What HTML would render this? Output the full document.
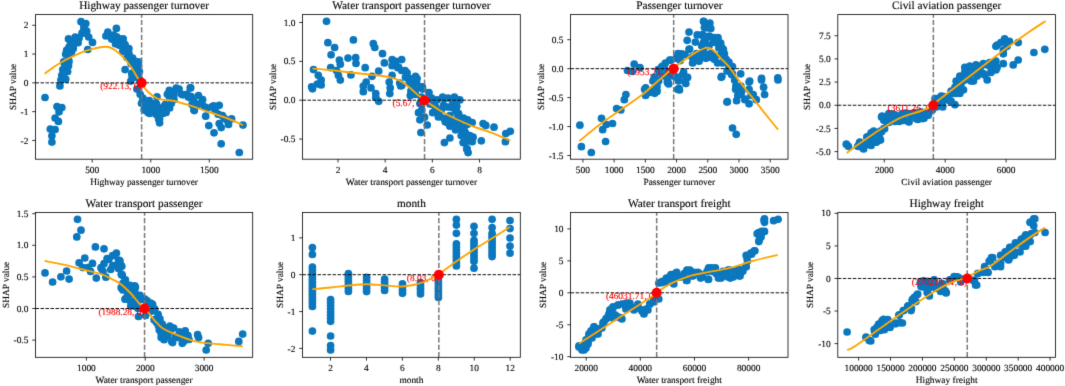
<!DOCTYPE html>
<html><head><meta charset="utf-8"><style>html,body{margin:0;padding:0;background:#fff;width:1065px;height:386px;overflow:hidden;position:relative} svg text{stroke:#000;stroke-width:0.12px;text-rendering:geometricPrecision} svg text.a{stroke:#f00}</style></head>
<body><svg width="1065" height="386" viewBox="0 0 1065 386" style="display:block;position:absolute;left:0;top:0"><defs><filter id="bl" x="0" y="0" width="1065" height="386" filterUnits="userSpaceOnUse" color-interpolation-filters="sRGB"><feConvolveMatrix order="3" kernelMatrix="0.0100 0.0800 0.0100 0.0800 0.6400 0.0800 0.0100 0.0800 0.0100" edgeMode="duplicate" preserveAlpha="true"/></filter></defs><g filter="url(#bl)"><rect width="1065" height="386" fill="#fff"/><g font-family='"Liberation Serif", serif' font-size="9.4" fill="#000""><clipPath id="c0"><rect x="35.5" y="14.6" width="217.2" height="144.6"/></clipPath><g clip-path="url(#c0)"><g fill="#0a77be"><circle cx="81" cy="21.7" r="3.85"/><circle cx="85.8" cy="23.6" r="3.85"/><circle cx="83.9" cy="28.4" r="3.85"/><circle cx="86.7" cy="31.2" r="3.85"/><circle cx="82.9" cy="33.2" r="3.85"/><circle cx="88.7" cy="37" r="3.85"/><circle cx="92.5" cy="42.4" r="3.85"/><circle cx="79.1" cy="38" r="3.85"/><circle cx="74.3" cy="40.8" r="3.85"/><circle cx="68.5" cy="38.9" r="3.85"/><circle cx="70.5" cy="44.7" r="3.85"/><circle cx="66.6" cy="50.4" r="3.85"/><circle cx="73.3" cy="48.5" r="3.85"/><circle cx="87.7" cy="49.5" r="3.85"/><circle cx="69.5" cy="54.2" r="3.85"/><circle cx="68.5" cy="60" r="3.85"/><circle cx="65.7" cy="64.8" r="3.85"/><circle cx="62.8" cy="69.6" r="3.85"/><circle cx="61.8" cy="75.3" r="3.85"/><circle cx="65.7" cy="79.2" r="3.85"/><circle cx="67.6" cy="71.5" r="3.85"/><circle cx="59.9" cy="85.9" r="3.85"/><circle cx="116.4" cy="28.4" r="3.85"/><circle cx="107.8" cy="32.2" r="3.85"/><circle cx="105.9" cy="36" r="3.85"/><circle cx="113.6" cy="35.1" r="3.85"/><circle cx="119.3" cy="38.9" r="3.85"/><circle cx="123.2" cy="38.9" r="3.85"/><circle cx="115.5" cy="43.7" r="3.85"/><circle cx="121.2" cy="45.6" r="3.85"/><circle cx="127" cy="48.5" r="3.85"/><circle cx="128.9" cy="53.3" r="3.85"/><circle cx="132.7" cy="58.1" r="3.85"/><circle cx="136.6" cy="61.9" r="3.85"/><circle cx="138.5" cy="65.7" r="3.85"/><circle cx="125.1" cy="69.6" r="3.85"/><circle cx="131.8" cy="73.4" r="3.85"/><circle cx="134.7" cy="77.2" r="3.85"/><circle cx="130.8" cy="81.1" r="3.85"/><circle cx="139.4" cy="71.5" r="3.85"/><circle cx="45" cy="97.5" r="3.85"/><circle cx="57" cy="106.5" r="3.85"/><circle cx="61.8" cy="107.6" r="3.85"/><circle cx="59" cy="111.8" r="3.85"/><circle cx="55.1" cy="118" r="3.85"/><circle cx="58.4" cy="121.4" r="3.85"/><circle cx="50.3" cy="129.1" r="3.85"/><circle cx="55.1" cy="129.5" r="3.85"/><circle cx="51.9" cy="135.8" r="3.85"/><circle cx="51.9" cy="142.1" r="3.85"/><circle cx="136.9" cy="89.1" r="3.85"/><circle cx="140.2" cy="94.3" r="3.85"/><circle cx="142.8" cy="98.1" r="3.85"/><circle cx="141.5" cy="103.3" r="3.85"/><circle cx="144.1" cy="109.8" r="3.85"/><circle cx="148" cy="112.4" r="3.85"/><circle cx="146.7" cy="105.9" r="3.85"/><circle cx="149.3" cy="100.7" r="3.85"/><circle cx="151.8" cy="103.3" r="3.85"/><circle cx="157" cy="96.8" r="3.85"/><circle cx="155.7" cy="105.9" r="3.85"/><circle cx="154.4" cy="111.1" r="3.85"/><circle cx="158.3" cy="113.7" r="3.85"/><circle cx="160.9" cy="108.5" r="3.85"/><circle cx="164.8" cy="105.9" r="3.85"/><circle cx="166.1" cy="112.4" r="3.85"/><circle cx="159.6" cy="118.9" r="3.85"/><circle cx="159.6" cy="122.8" r="3.85"/><circle cx="171.3" cy="103.3" r="3.85"/><circle cx="173.9" cy="99.4" r="3.85"/><circle cx="169.3" cy="90.4" r="3.85"/><circle cx="167.4" cy="94.3" r="3.85"/><circle cx="173.9" cy="91.7" r="3.85"/><circle cx="179.1" cy="89.1" r="3.85"/><circle cx="181.7" cy="94.3" r="3.85"/><circle cx="186.8" cy="94.3" r="3.85"/><circle cx="190.7" cy="87.8" r="3.85"/><circle cx="190.7" cy="98.1" r="3.85"/><circle cx="192" cy="104.6" r="3.85"/><circle cx="194" cy="109.8" r="3.85"/><circle cx="190.2" cy="87.9" r="3.85"/><circle cx="187.1" cy="94.5" r="3.85"/><circle cx="191.2" cy="96.6" r="3.85"/><circle cx="198.5" cy="95.5" r="3.85"/><circle cx="202.6" cy="99.7" r="3.85"/><circle cx="194.3" cy="102.8" r="3.85"/><circle cx="197.4" cy="104.8" r="3.85"/><circle cx="204.7" cy="106.9" r="3.85"/><circle cx="194.3" cy="110.6" r="3.85"/><circle cx="211.9" cy="106.9" r="3.85"/><circle cx="219.2" cy="105.3" r="3.85"/><circle cx="215" cy="110" r="3.85"/><circle cx="218.1" cy="114.2" r="3.85"/><circle cx="205.7" cy="116.2" r="3.85"/><circle cx="224.3" cy="118.3" r="3.85"/><circle cx="231.6" cy="118.9" r="3.85"/><circle cx="228.5" cy="124.5" r="3.85"/><circle cx="219.2" cy="123.5" r="3.85"/><circle cx="221.2" cy="127.6" r="3.85"/><circle cx="208.8" cy="125.6" r="3.85"/><circle cx="243" cy="125.1" r="3.85"/><circle cx="214" cy="132.8" r="3.85"/><circle cx="221.2" cy="143.8" r="3.85"/><circle cx="239.3" cy="152.5" r="3.85"/><circle cx="83.9" cy="25.5" r="3.85"/><circle cx="82" cy="33.2" r="3.85"/><circle cx="75.2" cy="37" r="3.85"/><circle cx="71.4" cy="40.8" r="3.85"/><circle cx="78.1" cy="42.7" r="3.85"/><circle cx="73.3" cy="45.6" r="3.85"/><circle cx="69.5" cy="48.5" r="3.85"/><circle cx="65.7" cy="54.2" r="3.85"/><circle cx="71.4" cy="52.3" r="3.85"/><circle cx="63.7" cy="61.9" r="3.85"/><circle cx="68.5" cy="65.7" r="3.85"/><circle cx="63.7" cy="73.4" r="3.85"/><circle cx="60.9" cy="80.1" r="3.85"/><circle cx="111.7" cy="38.9" r="3.85"/><circle cx="119.3" cy="42.7" r="3.85"/><circle cx="125.1" cy="44.7" r="3.85"/><circle cx="123.2" cy="50.4" r="3.85"/><circle cx="128.9" cy="48.5" r="3.85"/><circle cx="130.8" cy="58.1" r="3.85"/><circle cx="134.7" cy="65.7" r="3.85"/><circle cx="138.5" cy="61.9" r="3.85"/><circle cx="132.7" cy="75.3" r="3.85"/><circle cx="139.4" cy="79.2" r="3.85"/><circle cx="112.5" cy="38.9" r="3.85"/><circle cx="118.7" cy="45.1" r="3.85"/><circle cx="122.9" cy="51.3" r="3.85"/><circle cx="127" cy="57.5" r="3.85"/><circle cx="131.2" cy="63.7" r="3.85"/><circle cx="135.3" cy="67.9" r="3.85"/><circle cx="138.4" cy="74.1" r="3.85"/><circle cx="132.2" cy="76.2" r="3.85"/><circle cx="116.7" cy="36.8" r="3.85"/><circle cx="69" cy="47.1" r="3.85"/><circle cx="73.1" cy="40.9" r="3.85"/><circle cx="64.9" cy="65.8" r="3.85"/><circle cx="69" cy="61.6" r="3.85"/><circle cx="143.2" cy="99.2" r="3.85"/><circle cx="147.6" cy="103.6" r="3.85"/><circle cx="145.4" cy="110.2" r="3.85"/><circle cx="152" cy="108" r="3.85"/><circle cx="156.4" cy="103.6" r="3.85"/><circle cx="160.8" cy="108" r="3.85"/><circle cx="165.2" cy="104.7" r="3.85"/><circle cx="169.6" cy="108" r="3.85"/><circle cx="163" cy="113.5" r="3.85"/><circle cx="156.4" cy="114.6" r="3.85"/><circle cx="149.8" cy="113.5" r="3.85"/><circle cx="158.6" cy="119" r="3.85"/><circle cx="169.6" cy="97" r="3.85"/><circle cx="174" cy="94.8" r="3.85"/><circle cx="182.8" cy="94.8" r="3.85"/><circle cx="188.3" cy="97" r="3.85"/><circle cx="193.8" cy="101.4" r="3.85"/><circle cx="200.4" cy="103.6" r="3.85"/><circle cx="207" cy="108" r="3.85"/><circle cx="213.6" cy="105.8" r="3.85"/><circle cx="222.4" cy="115.7" r="3.85"/><circle cx="226.8" cy="120.1" r="3.85"/><circle cx="176.2" cy="88.2" r="3.85"/></g><text x="141.63" y="89.05" text-anchor="end" font-size="9.4" fill="#ff0000" class="a" font-family='"Liberation Serif", serif'>(922.13, 0)</text><line x1="35.5" y1="82.85" x2="252.7" y2="82.85" stroke="#000" stroke-width="0.94" stroke-dasharray="3.5 1.5"/><line x1="141.63" y1="159.2" x2="141.63" y2="14.6" stroke="#777" stroke-width="1.5" stroke-dasharray="5.2 2.25"/><path fill="none" stroke="#ffa500" stroke-width="1.88" stroke-linejoin="round" stroke-linecap="butt" d="M44.6 73.8C46.2 72.62 51.02 68.83 54.2 66.7C57.38 64.57 60.52 62.75 63.7 61C66.88 59.25 70.1 57.72 73.3 56.2C76.5 54.68 79.7 53.12 82.9 51.9C86.1 50.68 89.3 49.72 92.5 48.9C95.7 48.08 99.38 47.32 102.1 47C104.82 46.68 106.57 46.43 108.8 47C111.03 47.57 113.1 48.72 115.5 50.4C117.9 52.08 120.65 54.38 123.2 57.1C125.75 59.82 128.25 63.02 130.8 66.7C133.35 70.38 136.72 76.4 138.5 79.2C140.28 82 139.98 81.45 141.5 83.5C143.02 85.55 145.12 89.07 147.6 91.5C150.08 93.93 153.83 96.75 156.4 98.1C158.97 99.45 160.07 99.12 163 99.6C165.93 100.08 169.97 100.15 174 101C178.03 101.85 181.7 102.98 187.2 104.7C192.7 106.42 200.03 108.92 207 111.3C213.97 113.68 223 116.7 229 119C235 121.3 240.67 124.08 243 125.1"/><circle cx="141.63" cy="82.85" r="5" fill="#ff0000"/></g><rect x="35.5" y="14.6" width="217.2" height="144.6" fill="none" stroke="#000" stroke-width="0.8"/><text x="92.2" y="172.7" text-anchor="middle">500</text><text x="150.75" y="172.7" text-anchor="middle">1000</text><text x="209.3" y="172.7" text-anchor="middle">1500</text><text x="28.4" y="28.35" text-anchor="end">2</text><text x="28.4" y="57.15" text-anchor="end">1</text><text x="28.4" y="85.95" text-anchor="end">0</text><text x="28.4" y="114.75" text-anchor="end">-1</text><text x="28.4" y="143.55" text-anchor="end">-2</text><path d="M92.2 159.2v3.3 M150.75 159.2v3.3 M209.3 159.2v3.3 M35.5 25.25h-3.3 M35.5 54.05h-3.3 M35.5 82.85h-3.3 M35.5 111.65h-3.3 M35.5 140.45h-3.3" stroke="#000" stroke-width="0.8" fill="none"/><text x="144.1" y="185.3" text-anchor="middle">Highway passenger turnover</text><text x="144.1" y="9.1" text-anchor="middle" font-size="11.3">Highway passenger turnover</text><text transform="translate(16.1,86.9) rotate(-90)" text-anchor="middle">SHAP value</text></g><g font-family='"Liberation Serif", serif' font-size="9.4" fill="#000""><clipPath id="c1"><rect x="302.5" y="14.6" width="217.8" height="144.6"/></clipPath><g clip-path="url(#c1)"><g fill="#0a77be"><circle cx="326.5" cy="21.3" r="3.85"/><circle cx="353.4" cy="39.9" r="3.85"/><circle cx="327.9" cy="42.7" r="3.85"/><circle cx="334.6" cy="47.5" r="3.85"/><circle cx="373.3" cy="43.7" r="3.85"/><circle cx="374.8" cy="47.5" r="3.85"/><circle cx="331.1" cy="54.8" r="3.85"/><circle cx="382.5" cy="53.7" r="3.85"/><circle cx="348" cy="58.1" r="3.85"/><circle cx="355.7" cy="57.7" r="3.85"/><circle cx="339.4" cy="60" r="3.85"/><circle cx="340.3" cy="64.2" r="3.85"/><circle cx="356" cy="63.4" r="3.85"/><circle cx="384.4" cy="62.9" r="3.85"/><circle cx="392.1" cy="59.6" r="3.85"/><circle cx="401.7" cy="59.6" r="3.85"/><circle cx="365.2" cy="67.7" r="3.85"/><circle cx="330.7" cy="67.7" r="3.85"/><circle cx="313.5" cy="69.6" r="3.85"/><circle cx="336.5" cy="70.5" r="3.85"/><circle cx="378.7" cy="71.1" r="3.85"/><circle cx="392.1" cy="65.7" r="3.85"/><circle cx="397.8" cy="67.7" r="3.85"/><circle cx="401.7" cy="70.5" r="3.85"/><circle cx="318.3" cy="75.3" r="3.85"/><circle cx="338.4" cy="75.3" r="3.85"/><circle cx="350.9" cy="74.9" r="3.85"/><circle cx="372" cy="76.3" r="3.85"/><circle cx="392.1" cy="75.3" r="3.85"/><circle cx="321.2" cy="80.1" r="3.85"/><circle cx="340.3" cy="80.1" r="3.85"/><circle cx="317.3" cy="84" r="3.85"/><circle cx="311.6" cy="86.8" r="3.85"/><circle cx="366.2" cy="82" r="3.85"/><circle cx="389.2" cy="82" r="3.85"/><circle cx="405.5" cy="77.2" r="3.85"/><circle cx="399.7" cy="83" r="3.85"/><circle cx="409.3" cy="81.1" r="3.85"/><circle cx="312.5" cy="88.8" r="3.85"/><circle cx="321.2" cy="85" r="3.85"/><circle cx="363.3" cy="86" r="3.85"/><circle cx="363.3" cy="91.7" r="3.85"/><circle cx="371" cy="87.9" r="3.85"/><circle cx="375.8" cy="93.6" r="3.85"/><circle cx="375.8" cy="97.5" r="3.85"/><circle cx="378.7" cy="101.3" r="3.85"/><circle cx="390.2" cy="87.9" r="3.85"/><circle cx="389.8" cy="93.6" r="3.85"/><circle cx="400.7" cy="86" r="3.85"/><circle cx="410.3" cy="95.5" r="3.85"/><circle cx="405" cy="70.5" r="3.85"/><circle cx="408.8" cy="78.2" r="3.85"/><circle cx="415.5" cy="76.3" r="3.85"/><circle cx="416.5" cy="82.1" r="3.85"/><circle cx="422.3" cy="86.9" r="3.85"/><circle cx="401.8" cy="85.4" r="3.85"/><circle cx="410" cy="82.7" r="3.85"/><circle cx="416.3" cy="82.7" r="3.85"/><circle cx="410.9" cy="90.9" r="3.85"/><circle cx="415.4" cy="94.5" r="3.85"/><circle cx="422.7" cy="89.1" r="3.85"/><circle cx="429" cy="92.7" r="3.85"/><circle cx="419.9" cy="103.6" r="3.85"/><circle cx="421.8" cy="109.9" r="3.85"/><circle cx="424.5" cy="117.2" r="3.85"/><circle cx="427.2" cy="125" r="3.85"/><circle cx="420.9" cy="132.6" r="3.85"/><circle cx="431.7" cy="98.1" r="3.85"/><circle cx="434.5" cy="105.4" r="3.85"/><circle cx="436.3" cy="112.6" r="3.85"/><circle cx="442.6" cy="97.2" r="3.85"/><circle cx="448.1" cy="98.1" r="3.85"/><circle cx="454.4" cy="97.2" r="3.85"/><circle cx="459.8" cy="99.9" r="3.85"/><circle cx="443.5" cy="105.4" r="3.85"/><circle cx="450.8" cy="107.2" r="3.85"/><circle cx="456.2" cy="110.8" r="3.85"/><circle cx="458" cy="115.4" r="3.85"/><circle cx="439.9" cy="116.3" r="3.85"/><circle cx="445.3" cy="121.7" r="3.85"/><circle cx="449.9" cy="126.2" r="3.85"/><circle cx="454.4" cy="122.6" r="3.85"/><circle cx="463.5" cy="118.1" r="3.85"/><circle cx="467.1" cy="124.4" r="3.85"/><circle cx="458.9" cy="129" r="3.85"/><circle cx="465.3" cy="132.6" r="3.85"/><circle cx="449.9" cy="138" r="3.85"/><circle cx="444.4" cy="142.6" r="3.85"/><circle cx="463.5" cy="142.6" r="3.85"/><circle cx="467.1" cy="148.9" r="3.85"/><circle cx="455.9" cy="99.1" r="3.85"/><circle cx="456.8" cy="106.3" r="3.85"/><circle cx="458.6" cy="113.6" r="3.85"/><circle cx="464.1" cy="119" r="3.85"/><circle cx="467.7" cy="119.9" r="3.85"/><circle cx="472.2" cy="122.6" r="3.85"/><circle cx="460.4" cy="126.3" r="3.85"/><circle cx="464.1" cy="129.9" r="3.85"/><circle cx="466.8" cy="135.3" r="3.85"/><circle cx="473.1" cy="137.2" r="3.85"/><circle cx="472.2" cy="141.7" r="3.85"/><circle cx="463.2" cy="142.6" r="3.85"/><circle cx="481.3" cy="140.8" r="3.85"/><circle cx="483.1" cy="123.6" r="3.85"/><circle cx="485.8" cy="125.4" r="3.85"/><circle cx="494" cy="127.2" r="3.85"/><circle cx="466.8" cy="148.9" r="3.85"/><circle cx="468.1" cy="152.6" r="3.85"/><circle cx="505.8" cy="133.5" r="3.85"/><circle cx="510.3" cy="131.3" r="3.85"/><circle cx="505.4" cy="141.7" r="3.85"/><circle cx="429.9" cy="104.1" r="3.85"/><circle cx="435.6" cy="107" r="3.85"/><circle cx="441.3" cy="109.8" r="3.85"/><circle cx="447" cy="107" r="3.85"/><circle cx="452.7" cy="104.1" r="3.85"/><circle cx="432.7" cy="112.7" r="3.85"/><circle cx="438.4" cy="117" r="3.85"/><circle cx="444.1" cy="118.4" r="3.85"/><circle cx="449.8" cy="115.5" r="3.85"/><circle cx="455.5" cy="111.3" r="3.85"/><circle cx="447" cy="122.6" r="3.85"/><circle cx="452.7" cy="121.2" r="3.85"/><circle cx="458.4" cy="118.4" r="3.85"/><circle cx="459.8" cy="125.5" r="3.85"/><circle cx="455.5" cy="129.8" r="3.85"/><circle cx="464.1" cy="132.6" r="3.85"/><circle cx="469.8" cy="135.5" r="3.85"/><circle cx="466.9" cy="141.2" r="3.85"/><circle cx="461.2" cy="135.5" r="3.85"/><circle cx="421.3" cy="87" r="3.85"/><circle cx="417.1" cy="78.5" r="3.85"/><circle cx="407.1" cy="72.8" r="3.85"/><circle cx="398.5" cy="67.1" r="3.85"/><circle cx="395.7" cy="61.4" r="3.85"/><circle cx="411.4" cy="85.6" r="3.85"/><circle cx="415.6" cy="89.9" r="3.85"/><circle cx="412.8" cy="94.2" r="3.85"/><circle cx="421.3" cy="97" r="3.85"/><circle cx="418.5" cy="112.7" r="3.85"/><circle cx="419.9" cy="119.8" r="3.85"/><circle cx="444.1" cy="98.4" r="3.85"/><circle cx="437" cy="99.9" r="3.85"/></g><text x="424.55" y="106.4" text-anchor="end" font-size="9.4" fill="#ff0000" class="a" font-family='"Liberation Serif", serif'>(5.67, 0)</text><line x1="302.5" y1="100.2" x2="520.3" y2="100.2" stroke="#000" stroke-width="0.94" stroke-dasharray="3.5 1.5"/><line x1="424.55" y1="159.2" x2="424.55" y2="14.6" stroke="#777" stroke-width="1.5" stroke-dasharray="5.2 2.25"/><path fill="none" stroke="#ffa500" stroke-width="1.88" stroke-linejoin="round" stroke-linecap="butt" d="M312.5 68.6C315.53 68.83 324.47 69.35 330.7 70C336.93 70.65 342.87 71.68 349.9 72.5C356.93 73.32 366.33 74.13 372.9 74.9C379.47 75.67 385 76.22 389.3 77.1C393.6 77.98 395.85 78.9 398.7 80.2C401.55 81.5 404.08 83.22 406.4 84.9C408.72 86.58 410.52 88.48 412.6 90.3C414.68 92.12 416.82 94.12 418.9 95.8C420.98 97.48 422.77 98.72 425.1 100.4C427.43 102.08 430.42 104.22 432.9 105.9C435.38 107.58 437.65 109.07 440 110.5C442.35 111.93 444.33 113.08 447 114.5C449.67 115.92 451.67 117.03 456 119C460.33 120.97 467.12 124.03 473 126.3C478.88 128.57 485.08 130.25 491.3 132.6C497.52 134.95 507.13 139.1 510.3 140.4"/><circle cx="424.55" cy="100.2" r="5" fill="#ff0000"/></g><rect x="302.5" y="14.6" width="217.8" height="144.6" fill="none" stroke="#000" stroke-width="0.8"/><text x="338" y="172.7" text-anchor="middle">2</text><text x="385.17" y="172.7" text-anchor="middle">4</text><text x="432.33" y="172.7" text-anchor="middle">6</text><text x="479.5" y="172.7" text-anchor="middle">8</text><text x="295.4" y="25.6" text-anchor="end">1.0</text><text x="295.4" y="64.45" text-anchor="end">0.5</text><text x="295.4" y="103.3" text-anchor="end">0.0</text><text x="295.4" y="142.15" text-anchor="end">-0.5</text><path d="M338 159.2v3.3 M385.17 159.2v3.3 M432.33 159.2v3.3 M479.5 159.2v3.3 M302.5 22.5h-3.3 M302.5 61.35h-3.3 M302.5 100.2h-3.3 M302.5 139.05h-3.3" stroke="#000" stroke-width="0.8" fill="none"/><text x="411.4" y="185.3" text-anchor="middle">Water transport passenger turnover</text><text x="411.4" y="9.1" text-anchor="middle" font-size="11.3">Water transport passenger turnover</text><text transform="translate(275.6,86.9) rotate(-90)" text-anchor="middle">SHAP value</text></g><g font-family='"Liberation Serif", serif' font-size="9.4" fill="#000""><clipPath id="c2"><rect x="570.6" y="14.6" width="217.4" height="144.6"/></clipPath><g clip-path="url(#c2)"><g fill="#0a77be"><circle cx="634.2" cy="64.2" r="3.85"/><circle cx="640" cy="67.7" r="3.85"/><circle cx="627.5" cy="70.5" r="3.85"/><circle cx="632.3" cy="71.5" r="3.85"/><circle cx="658.2" cy="69.6" r="3.85"/><circle cx="663.9" cy="65.7" r="3.85"/><circle cx="669.7" cy="60" r="3.85"/><circle cx="676.4" cy="58.1" r="3.85"/><circle cx="679.2" cy="54.2" r="3.85"/><circle cx="654.3" cy="77.2" r="3.85"/><circle cx="662" cy="75.3" r="3.85"/><circle cx="667.7" cy="81.1" r="3.85"/><circle cx="645.7" cy="87.8" r="3.85"/><circle cx="676.4" cy="77.2" r="3.85"/><circle cx="579.9" cy="125.2" r="3.85"/><circle cx="581.4" cy="146.7" r="3.85"/><circle cx="591.3" cy="152.5" r="3.85"/><circle cx="605.6" cy="141.5" r="3.85"/><circle cx="601.5" cy="118.3" r="3.85"/><circle cx="606.3" cy="124.5" r="3.85"/><circle cx="602.7" cy="129.7" r="3.85"/><circle cx="612.5" cy="123.5" r="3.85"/><circle cx="616.6" cy="108.6" r="3.85"/><circle cx="620.8" cy="110" r="3.85"/><circle cx="624.3" cy="99.7" r="3.85"/><circle cx="625.9" cy="94.5" r="3.85"/><circle cx="644.6" cy="89.3" r="3.85"/><circle cx="645.6" cy="95.5" r="3.85"/><circle cx="649.8" cy="92.4" r="3.85"/><circle cx="654.9" cy="88.3" r="3.85"/><circle cx="657" cy="91.4" r="3.85"/><circle cx="652.9" cy="81" r="3.85"/><circle cx="667.4" cy="82.1" r="3.85"/><circle cx="677.7" cy="89.3" r="3.85"/><circle cx="703.5" cy="21.3" r="3.85"/><circle cx="709.9" cy="23.1" r="3.85"/><circle cx="704.4" cy="27.6" r="3.85"/><circle cx="710.8" cy="28.5" r="3.85"/><circle cx="689" cy="32.1" r="3.85"/><circle cx="697.2" cy="34.9" r="3.85"/><circle cx="702.6" cy="34.9" r="3.85"/><circle cx="687.2" cy="40.3" r="3.85"/><circle cx="695.4" cy="42.1" r="3.85"/><circle cx="705.3" cy="39.4" r="3.85"/><circle cx="714.4" cy="37.6" r="3.85"/><circle cx="718" cy="43" r="3.85"/><circle cx="721.7" cy="47.6" r="3.85"/><circle cx="709" cy="45.7" r="3.85"/><circle cx="701.7" cy="45.7" r="3.85"/><circle cx="689" cy="49.4" r="3.85"/><circle cx="681.8" cy="53.9" r="3.85"/><circle cx="676.3" cy="58.4" r="3.85"/><circle cx="670.9" cy="60.2" r="3.85"/><circle cx="665.4" cy="63" r="3.85"/><circle cx="661.8" cy="66.6" r="3.85"/><circle cx="696.3" cy="58.4" r="3.85"/><circle cx="699" cy="61.2" r="3.85"/><circle cx="703.5" cy="55.7" r="3.85"/><circle cx="711.7" cy="53.9" r="3.85"/><circle cx="714.4" cy="59.3" r="3.85"/><circle cx="720.8" cy="54.8" r="3.85"/><circle cx="724.4" cy="53.9" r="3.85"/><circle cx="723.5" cy="61.2" r="3.85"/><circle cx="728.9" cy="68.4" r="3.85"/><circle cx="721.7" cy="76.6" r="3.85"/><circle cx="687.2" cy="77.5" r="3.85"/><circle cx="683.6" cy="72" r="3.85"/><circle cx="678.1" cy="77.5" r="3.85"/><circle cx="667.3" cy="72" r="3.85"/><circle cx="672.7" cy="75.7" r="3.85"/><circle cx="692.6" cy="63" r="3.85"/><circle cx="656.8" cy="90" r="3.85"/><circle cx="658.6" cy="80.9" r="3.85"/><circle cx="667.7" cy="82.7" r="3.85"/><circle cx="678.6" cy="80.9" r="3.85"/><circle cx="685.8" cy="83.6" r="3.85"/><circle cx="687.6" cy="77.3" r="3.85"/><circle cx="679.5" cy="90" r="3.85"/><circle cx="721.2" cy="77.3" r="3.85"/><circle cx="727" cy="102" r="3.85"/><circle cx="718" cy="37.6" r="3.85"/><circle cx="720.7" cy="43" r="3.85"/><circle cx="723.4" cy="49.4" r="3.85"/><circle cx="721.6" cy="54.8" r="3.85"/><circle cx="726.2" cy="59.3" r="3.85"/><circle cx="728.9" cy="62.1" r="3.85"/><circle cx="722.5" cy="63" r="3.85"/><circle cx="732.5" cy="66.6" r="3.85"/><circle cx="727.1" cy="71.1" r="3.85"/><circle cx="732.5" cy="73.8" r="3.85"/><circle cx="740.7" cy="73.8" r="3.85"/><circle cx="721.6" cy="76.6" r="3.85"/><circle cx="749.7" cy="81.1" r="3.85"/><circle cx="761.5" cy="78.4" r="3.85"/><circle cx="777.8" cy="77.8" r="3.85"/><circle cx="734.6" cy="80" r="3.85"/><circle cx="749.1" cy="82.1" r="3.85"/><circle cx="761.5" cy="80" r="3.85"/><circle cx="778" cy="80" r="3.85"/><circle cx="735.6" cy="89.3" r="3.85"/><circle cx="740.8" cy="86.2" r="3.85"/><circle cx="749.1" cy="89.3" r="3.85"/><circle cx="763.6" cy="87.2" r="3.85"/><circle cx="764.6" cy="94.5" r="3.85"/><circle cx="753.2" cy="94.5" r="3.85"/><circle cx="740.8" cy="94.5" r="3.85"/><circle cx="736.6" cy="100.7" r="3.85"/><circle cx="744.9" cy="99.7" r="3.85"/><circle cx="749.1" cy="103.8" r="3.85"/><circle cx="756.3" cy="99.7" r="3.85"/><circle cx="727.3" cy="101.7" r="3.85"/><circle cx="732.5" cy="128" r="3.85"/><circle cx="736.2" cy="134.3" r="3.85"/><circle cx="706" cy="28" r="3.85"/><circle cx="701.3" cy="35" r="3.85"/><circle cx="709.5" cy="36.2" r="3.85"/><circle cx="703.6" cy="42" r="3.85"/><circle cx="713" cy="42" r="3.85"/><circle cx="717.6" cy="39.6" r="3.85"/><circle cx="720" cy="46.6" r="3.85"/><circle cx="722.3" cy="53.6" r="3.85"/><circle cx="724.6" cy="60.6" r="3.85"/><circle cx="729.3" cy="67.6" r="3.85"/><circle cx="731.6" cy="74.6" r="3.85"/><circle cx="689.6" cy="49" r="3.85"/><circle cx="696.6" cy="53.6" r="3.85"/><circle cx="703.6" cy="51.3" r="3.85"/><circle cx="710.6" cy="53.6" r="3.85"/><circle cx="699" cy="60.6" r="3.85"/><circle cx="706" cy="58.3" r="3.85"/><circle cx="715.3" cy="56" r="3.85"/><circle cx="717.6" cy="63" r="3.85"/><circle cx="692" cy="57.1" r="3.85"/><circle cx="685" cy="54.8" r="3.85"/><circle cx="678" cy="53.6" r="3.85"/><circle cx="680.3" cy="60.6" r="3.85"/><circle cx="664" cy="67.6" r="3.85"/><circle cx="659.3" cy="72.3" r="3.85"/><circle cx="666.3" cy="77" r="3.85"/><circle cx="675.6" cy="77" r="3.85"/><circle cx="682.6" cy="74.6" r="3.85"/><circle cx="685" cy="81.6" r="3.85"/><circle cx="657" cy="86.3" r="3.85"/><circle cx="668.7" cy="84" r="3.85"/><circle cx="654.7" cy="93.3" r="3.85"/><circle cx="679.1" cy="88.6" r="3.85"/><circle cx="703.8" cy="21.6" r="3.85"/><circle cx="709.5" cy="27.2" r="3.85"/><circle cx="705.7" cy="36.7" r="3.85"/><circle cx="715.1" cy="42.4" r="3.85"/><circle cx="718.9" cy="48" r="3.85"/><circle cx="722.7" cy="53.7" r="3.85"/><circle cx="701.9" cy="55.6" r="3.85"/><circle cx="711.3" cy="57.5" r="3.85"/><circle cx="728.4" cy="63.2" r="3.85"/><circle cx="735.9" cy="85.9" r="3.85"/><circle cx="741.6" cy="91.5" r="3.85"/><circle cx="751.1" cy="95.3" r="3.85"/><circle cx="745.4" cy="99.1" r="3.85"/><circle cx="737.8" cy="95.3" r="3.85"/></g><text x="673.66" y="74.85" text-anchor="end" font-size="9.4" fill="#ff0000" class="a" font-family='"Liberation Serif", serif'>(1953.71, 0)</text><line x1="570.6" y1="68.65" x2="788.0" y2="68.65" stroke="#000" stroke-width="0.94" stroke-dasharray="3.5 1.5"/><line x1="673.66" y1="159.2" x2="673.66" y2="14.6" stroke="#777" stroke-width="1.5" stroke-dasharray="5.2 2.25"/><path fill="none" stroke="#ffa500" stroke-width="1.88" stroke-linejoin="round" stroke-linecap="butt" d="M579.3 141.1C582.93 138.17 594.02 128.85 601.1 123.5C608.18 118.15 614.9 113.83 621.8 109C628.7 104.17 636.28 99.33 642.5 94.5C648.72 89.67 654.07 84.35 659.1 80C664.13 75.65 668.32 71.85 672.7 68.4C677.08 64.95 681.47 62.02 685.4 59.3C689.33 56.58 692.67 54.05 696.3 52.1C699.93 50.15 704.18 47.75 707.2 47.6C710.22 47.45 711.98 49.25 714.4 51.2C716.82 53.15 719.28 56.73 721.7 59.3C724.12 61.87 725.73 62.67 728.9 66.6C732.07 70.53 732.5 72.38 740.7 82.9C748.9 93.42 771.87 121.9 778.1 129.7"/><circle cx="673.66" cy="68.65" r="5" fill="#ff0000"/></g><rect x="570.6" y="14.6" width="217.4" height="144.6" fill="none" stroke="#000" stroke-width="0.8"/><text x="582.9" y="172.7" text-anchor="middle">500</text><text x="614.12" y="172.7" text-anchor="middle">1000</text><text x="645.33" y="172.7" text-anchor="middle">1500</text><text x="676.55" y="172.7" text-anchor="middle">2000</text><text x="707.77" y="172.7" text-anchor="middle">2500</text><text x="738.98" y="172.7" text-anchor="middle">3000</text><text x="770.2" y="172.7" text-anchor="middle">3500</text><text x="563.5" y="42.8" text-anchor="end">0.5</text><text x="563.5" y="71.75" text-anchor="end">0.0</text><text x="563.5" y="100.7" text-anchor="end">-0.5</text><text x="563.5" y="129.65" text-anchor="end">-1.0</text><text x="563.5" y="158.6" text-anchor="end">-1.5</text><path d="M582.9 159.2v3.3 M614.12 159.2v3.3 M645.33 159.2v3.3 M676.55 159.2v3.3 M707.77 159.2v3.3 M738.98 159.2v3.3 M770.2 159.2v3.3 M570.6 39.7h-3.3 M570.6 68.65h-3.3 M570.6 97.6h-3.3 M570.6 126.55h-3.3 M570.6 155.5h-3.3" stroke="#000" stroke-width="0.8" fill="none"/><text x="679.3" y="185.3" text-anchor="middle">Passenger turnover</text><text x="679.3" y="9.1" text-anchor="middle" font-size="11.3">Passenger turnover</text><text transform="translate(543.7,86.9) rotate(-90)" text-anchor="middle">SHAP value</text></g><g font-family='"Liberation Serif", serif' font-size="9.4" fill="#000""><clipPath id="c3"><rect x="837.8" y="14.6" width="217.7" height="144.6"/></clipPath><g clip-path="url(#c3)"><g fill="#0a77be"><circle cx="846.3" cy="144.2" r="3.85"/><circle cx="848.4" cy="146.3" r="3.85"/><circle cx="859.8" cy="142.2" r="3.85"/><circle cx="863.9" cy="146.3" r="3.85"/><circle cx="868.1" cy="142.2" r="3.85"/><circle cx="871.2" cy="133.9" r="3.85"/><circle cx="874.3" cy="139" r="3.85"/><circle cx="878.4" cy="135.9" r="3.85"/><circle cx="881.5" cy="131.8" r="3.85"/><circle cx="884.6" cy="128.7" r="3.85"/><circle cx="867" cy="137" r="3.85"/><circle cx="861.9" cy="144.2" r="3.85"/><circle cx="857.7" cy="146.3" r="3.85"/><circle cx="876.4" cy="142.2" r="3.85"/><circle cx="880.5" cy="140.1" r="3.85"/><circle cx="881.5" cy="116.9" r="3.85"/><circle cx="886.7" cy="119.4" r="3.85"/><circle cx="890.9" cy="116.3" r="3.85"/><circle cx="895" cy="121.4" r="3.85"/><circle cx="899.2" cy="117.3" r="3.85"/><circle cx="903.3" cy="120.4" r="3.85"/><circle cx="908.5" cy="121.4" r="3.85"/><circle cx="911.6" cy="116.3" r="3.85"/><circle cx="917.8" cy="114.2" r="3.85"/><circle cx="924" cy="113.1" r="3.85"/><circle cx="928.2" cy="115.2" r="3.85"/><circle cx="924" cy="118.3" r="3.85"/><circle cx="917.8" cy="119.4" r="3.85"/><circle cx="888.8" cy="122.5" r="3.85"/><circle cx="892.9" cy="114.2" r="3.85"/><circle cx="905.4" cy="113.1" r="3.85"/><circle cx="899.2" cy="121.4" r="3.85"/><circle cx="932.3" cy="110" r="3.85"/><circle cx="936.4" cy="106.9" r="3.85"/><circle cx="940.6" cy="100.7" r="3.85"/><circle cx="943.7" cy="96.6" r="3.85"/><circle cx="942.7" cy="106.9" r="3.85"/><circle cx="935" cy="98.5" r="3.85"/><circle cx="941.2" cy="96" r="3.85"/><circle cx="944.9" cy="99.7" r="3.85"/><circle cx="949.9" cy="101" r="3.85"/><circle cx="954.9" cy="104.7" r="3.85"/><circle cx="951.1" cy="91" r="3.85"/><circle cx="954.9" cy="87.3" r="3.85"/><circle cx="958.6" cy="83.6" r="3.85"/><circle cx="963.5" cy="89.8" r="3.85"/><circle cx="962.3" cy="81.1" r="3.85"/><circle cx="966" cy="69.9" r="3.85"/><circle cx="967.3" cy="74.9" r="3.85"/><circle cx="971" cy="81.1" r="3.85"/><circle cx="973.5" cy="67.4" r="3.85"/><circle cx="977.2" cy="72.4" r="3.85"/><circle cx="980.9" cy="66.2" r="3.85"/><circle cx="983.4" cy="73.6" r="3.85"/><circle cx="987.2" cy="64.9" r="3.85"/><circle cx="990.9" cy="67.4" r="3.85"/><circle cx="987.2" cy="79.9" r="3.85"/><circle cx="994.6" cy="62.5" r="3.85"/><circle cx="995.9" cy="69.9" r="3.85"/><circle cx="1003.3" cy="63.7" r="3.85"/><circle cx="995.9" cy="46.3" r="3.85"/><circle cx="1003.3" cy="50" r="3.85"/><circle cx="1004.6" cy="40.1" r="3.85"/><circle cx="1009.5" cy="41.3" r="3.85"/><circle cx="1018.2" cy="42.6" r="3.85"/><circle cx="1013.2" cy="64.9" r="3.85"/><circle cx="1018.2" cy="60" r="3.85"/><circle cx="1033.9" cy="52.5" r="3.85"/><circle cx="1044.8" cy="49.3" r="3.85"/><circle cx="959.8" cy="76.1" r="3.85"/><circle cx="956.1" cy="93.5" r="3.85"/><circle cx="859.4" cy="143" r="3.85"/><circle cx="861.9" cy="147.2" r="3.85"/><circle cx="865.3" cy="144.7" r="3.85"/><circle cx="868.6" cy="142.1" r="3.85"/><circle cx="866.9" cy="137.1" r="3.85"/><circle cx="871.1" cy="132.9" r="3.85"/><circle cx="873.7" cy="138.8" r="3.85"/><circle cx="876.2" cy="134.6" r="3.85"/><circle cx="879.6" cy="137.9" r="3.85"/><circle cx="880.4" cy="131.2" r="3.85"/><circle cx="883.8" cy="128.7" r="3.85"/><circle cx="873.7" cy="131.2" r="3.85"/><circle cx="863.6" cy="148.9" r="3.85"/><circle cx="871.1" cy="145.5" r="3.85"/><circle cx="875.4" cy="142.1" r="3.85"/><circle cx="882.1" cy="116" r="3.85"/><circle cx="883.8" cy="120.3" r="3.85"/><circle cx="888.8" cy="113.5" r="3.85"/><circle cx="890.5" cy="118.6" r="3.85"/><circle cx="895.6" cy="115.2" r="3.85"/><circle cx="897.2" cy="121.1" r="3.85"/><circle cx="902.3" cy="113.5" r="3.85"/><circle cx="904" cy="119.4" r="3.85"/><circle cx="909" cy="113.5" r="3.85"/><circle cx="909" cy="121.9" r="3.85"/><circle cx="914.1" cy="112.7" r="3.85"/><circle cx="915.8" cy="118.6" r="3.85"/><circle cx="920.8" cy="111.8" r="3.85"/><circle cx="922.5" cy="118.6" r="3.85"/><circle cx="927.5" cy="115.2" r="3.85"/><circle cx="930.9" cy="111" r="3.85"/><circle cx="887.1" cy="121.9" r="3.85"/><circle cx="937.5" cy="98.5" r="3.85"/><circle cx="942.4" cy="102.2" r="3.85"/><circle cx="947.4" cy="97.3" r="3.85"/><circle cx="952.4" cy="93.5" r="3.85"/><circle cx="951.1" cy="101" r="3.85"/><circle cx="957.3" cy="88.6" r="3.85"/><circle cx="961.1" cy="83.6" r="3.85"/><circle cx="964.8" cy="79.9" r="3.85"/><circle cx="959.8" cy="93.5" r="3.85"/><circle cx="956.1" cy="81.1" r="3.85"/><circle cx="964.8" cy="67.4" r="3.85"/><circle cx="964.8" cy="72.4" r="3.85"/><circle cx="969.8" cy="66.2" r="3.85"/><circle cx="971" cy="73.6" r="3.85"/><circle cx="976" cy="64.9" r="3.85"/><circle cx="977.2" cy="76.1" r="3.85"/><circle cx="979.7" cy="69.9" r="3.85"/><circle cx="983.4" cy="63.7" r="3.85"/><circle cx="984.7" cy="74.9" r="3.85"/><circle cx="989.6" cy="62.5" r="3.85"/><circle cx="990.9" cy="72.4" r="3.85"/><circle cx="995.9" cy="61.2" r="3.85"/><circle cx="997.1" cy="67.4" r="3.85"/><circle cx="973.5" cy="81.1" r="3.85"/><circle cx="968.5" cy="78.6" r="3.85"/><circle cx="997.1" cy="45.1" r="3.85"/><circle cx="1000.8" cy="42.6" r="3.85"/><circle cx="1003.3" cy="53.8" r="3.85"/><circle cx="1007" cy="46.3" r="3.85"/><circle cx="1004.6" cy="38.9" r="3.85"/></g><text x="933.36" y="111.46" text-anchor="end" font-size="9.4" fill="#ff0000" class="a" font-family='"Liberation Serif", serif'>(3611.26, 0)</text><line x1="837.8" y1="105.26" x2="1055.5" y2="105.26" stroke="#000" stroke-width="0.94" stroke-dasharray="3.5 1.5"/><line x1="933.36" y1="159.2" x2="933.36" y2="14.6" stroke="#777" stroke-width="1.5" stroke-dasharray="5.2 2.25"/><path fill="none" stroke="#ffa500" stroke-width="1.88" stroke-linejoin="round" stroke-linecap="butt" d="M846.7 153.1C848.38 151.83 852.3 148.73 856.8 145.5C861.3 142.27 868.65 137.07 873.7 133.7C878.75 130.33 883.18 127.68 887.1 125.3C891.02 122.92 893.83 121.08 897.2 119.4C900.57 117.72 903.37 116.6 907.3 115.2C911.23 113.8 916.87 112.4 920.8 111C924.73 109.6 928.53 108.13 930.9 106.8C933.27 105.47 931 106.22 935 103C939 99.78 947.45 93.25 954.9 87.5C962.35 81.75 971.42 74.83 979.7 68.5C987.98 62.17 996.32 55.62 1004.6 49.5C1012.88 43.38 1022.57 36.55 1029.4 31.8C1036.23 27.05 1042.9 22.8 1045.6 21"/><circle cx="933.36" cy="105.26" r="5" fill="#ff0000"/></g><rect x="837.8" y="14.6" width="217.7" height="144.6" fill="none" stroke="#000" stroke-width="0.8"/><text x="884.3" y="172.7" text-anchor="middle">2000</text><text x="945.2" y="172.7" text-anchor="middle">4000</text><text x="1006.1" y="172.7" text-anchor="middle">6000</text><text x="830.7" y="38.85" text-anchor="end">7.5</text><text x="830.7" y="62.02" text-anchor="end">5.0</text><text x="830.7" y="85.19" text-anchor="end">2.5</text><text x="830.7" y="108.36" text-anchor="end">0.0</text><text x="830.7" y="131.53" text-anchor="end">-2.5</text><text x="830.7" y="154.7" text-anchor="end">-5.0</text><path d="M884.3 159.2v3.3 M945.2 159.2v3.3 M1006.1 159.2v3.3 M837.8 35.75h-3.3 M837.8 58.92h-3.3 M837.8 82.09h-3.3 M837.8 105.26h-3.3 M837.8 128.43h-3.3 M837.8 151.6h-3.3" stroke="#000" stroke-width="0.8" fill="none"/><text x="946.65" y="185.3" text-anchor="middle">Civil aviation passenger</text><text x="946.65" y="9.1" text-anchor="middle" font-size="11.3">Civil aviation passenger</text><text transform="translate(810.2,86.9) rotate(-90)" text-anchor="middle">SHAP value</text></g><g font-family='"Liberation Serif", serif' font-size="9.4" fill="#000""><clipPath id="c4"><rect x="35.5" y="212.5" width="217.2" height="144.8"/></clipPath><g clip-path="url(#c4)"><g fill="#0a77be"><circle cx="77.5" cy="219.3" r="3.85"/><circle cx="81" cy="230.2" r="3.85"/><circle cx="76.8" cy="236.9" r="3.85"/><circle cx="95.4" cy="246.9" r="3.85"/><circle cx="104" cy="248.8" r="3.85"/><circle cx="116.4" cy="253.2" r="3.85"/><circle cx="112.6" cy="255.7" r="3.85"/><circle cx="108.8" cy="259.5" r="3.85"/><circle cx="84.8" cy="258" r="3.85"/><circle cx="79.1" cy="262.8" r="3.85"/><circle cx="92.5" cy="263.4" r="3.85"/><circle cx="87.7" cy="267.6" r="3.85"/><circle cx="82.9" cy="267.6" r="3.85"/><circle cx="104" cy="263.7" r="3.85"/><circle cx="101.1" cy="267.6" r="3.85"/><circle cx="119.3" cy="260.9" r="3.85"/><circle cx="121.2" cy="265.7" r="3.85"/><circle cx="117.4" cy="264.7" r="3.85"/><circle cx="45" cy="272.9" r="3.85"/><circle cx="66.6" cy="271" r="3.85"/><circle cx="60.9" cy="276.8" r="3.85"/><circle cx="69.1" cy="279.1" r="3.85"/><circle cx="52.6" cy="282" r="3.85"/><circle cx="90.6" cy="271.4" r="3.85"/><circle cx="96.3" cy="278.1" r="3.85"/><circle cx="105.9" cy="277.2" r="3.85"/><circle cx="103" cy="271.4" r="3.85"/><circle cx="122.2" cy="275.2" r="3.85"/><circle cx="125.1" cy="281" r="3.85"/><circle cx="134.7" cy="285.8" r="3.85"/><circle cx="110.7" cy="269.5" r="3.85"/><circle cx="121.2" cy="287.7" r="3.85"/><circle cx="128.9" cy="285.8" r="3.85"/><circle cx="134.7" cy="288.7" r="3.85"/><circle cx="127" cy="297.3" r="3.85"/><circle cx="132.7" cy="301.2" r="3.85"/><circle cx="139.4" cy="296.4" r="3.85"/><circle cx="136.6" cy="306.9" r="3.85"/><circle cx="138.5" cy="316.5" r="3.85"/><circle cx="125.1" cy="299.2" r="3.85"/><circle cx="130.8" cy="306" r="3.85"/><circle cx="120" cy="260.9" r="3.85"/><circle cx="121.8" cy="266.3" r="3.85"/><circle cx="121.8" cy="274.5" r="3.85"/><circle cx="125.4" cy="279.9" r="3.85"/><circle cx="122.7" cy="283.5" r="3.85"/><circle cx="130" cy="285.4" r="3.85"/><circle cx="135.4" cy="287.2" r="3.85"/><circle cx="127.3" cy="291.7" r="3.85"/><circle cx="132.7" cy="293.5" r="3.85"/><circle cx="140" cy="295.3" r="3.85"/><circle cx="125.4" cy="299" r="3.85"/><circle cx="130.9" cy="302.6" r="3.85"/><circle cx="136.3" cy="299.9" r="3.85"/><circle cx="147.2" cy="300.8" r="3.85"/><circle cx="152.6" cy="304.4" r="3.85"/><circle cx="138.1" cy="308" r="3.85"/><circle cx="154.5" cy="309.8" r="3.85"/><circle cx="158.1" cy="314.4" r="3.85"/><circle cx="159.9" cy="318.9" r="3.85"/><circle cx="147.2" cy="311.7" r="3.85"/><circle cx="144.9" cy="299.2" r="3.85"/><circle cx="150.7" cy="303.1" r="3.85"/><circle cx="154.5" cy="308.8" r="3.85"/><circle cx="158.3" cy="316.5" r="3.85"/><circle cx="156.4" cy="322.2" r="3.85"/><circle cx="159.3" cy="329.9" r="3.85"/><circle cx="161.2" cy="337.6" r="3.85"/><circle cx="166" cy="328" r="3.85"/><circle cx="169.8" cy="326.1" r="3.85"/><circle cx="173.7" cy="328" r="3.85"/><circle cx="167.9" cy="335.7" r="3.85"/><circle cx="171.7" cy="341.4" r="3.85"/><circle cx="177.5" cy="337.6" r="3.85"/><circle cx="179.4" cy="331.8" r="3.85"/><circle cx="185.2" cy="330.9" r="3.85"/><circle cx="188" cy="335.7" r="3.85"/><circle cx="182.3" cy="343.3" r="3.85"/><circle cx="183.2" cy="339.5" r="3.85"/><circle cx="189" cy="339.5" r="3.85"/><circle cx="197.6" cy="334.7" r="3.85"/><circle cx="198.6" cy="337.6" r="3.85"/><circle cx="208.2" cy="343.3" r="3.85"/><circle cx="206.2" cy="350" r="3.85"/><circle cx="238.8" cy="341.4" r="3.85"/><circle cx="242.7" cy="334.1" r="3.85"/><circle cx="164.1" cy="333.7" r="3.85"/><circle cx="162.2" cy="324.2" r="3.85"/><circle cx="121.3" cy="274.2" r="3.85"/><circle cx="124.2" cy="282.7" r="3.85"/><circle cx="129.9" cy="288.4" r="3.85"/><circle cx="135.6" cy="294.1" r="3.85"/><circle cx="127" cy="297" r="3.85"/><circle cx="132.7" cy="301.3" r="3.85"/><circle cx="139.9" cy="299.8" r="3.85"/><circle cx="138.4" cy="308.4" r="3.85"/><circle cx="147" cy="304.1" r="3.85"/><circle cx="151.3" cy="311.2" r="3.85"/><circle cx="145.6" cy="315.5" r="3.85"/><circle cx="154.1" cy="319.8" r="3.85"/><circle cx="158.4" cy="325.5" r="3.85"/><circle cx="161.2" cy="334" r="3.85"/><circle cx="164.1" cy="339.7" r="3.85"/><circle cx="169.8" cy="331.2" r="3.85"/><circle cx="175.5" cy="336.9" r="3.85"/><circle cx="181.2" cy="334" r="3.85"/><circle cx="184" cy="341.2" r="3.85"/><circle cx="172.6" cy="342.6" r="3.85"/><circle cx="112.8" cy="265.6" r="3.85"/><circle cx="118.5" cy="260" r="3.85"/><circle cx="107.1" cy="258.5" r="3.85"/><circle cx="101.4" cy="268.5" r="3.85"/><circle cx="118.5" cy="268.5" r="3.85"/><circle cx="122.8" cy="289.9" r="3.85"/></g><text x="144.56" y="314.7" text-anchor="end" font-size="9.4" fill="#ff0000" class="a" font-family='"Liberation Serif", serif'>(1988.28, 0)</text><line x1="35.5" y1="308.5" x2="252.7" y2="308.5" stroke="#000" stroke-width="0.94" stroke-dasharray="3.5 1.5"/><line x1="144.56" y1="357.3" x2="144.56" y2="212.5" stroke="#777" stroke-width="1.5" stroke-dasharray="5.2 2.25"/><path fill="none" stroke="#ffa500" stroke-width="1.88" stroke-linejoin="round" stroke-linecap="butt" d="M44.6 260.9C47.78 261.53 57.32 263.27 63.7 264.7C70.08 266.13 76.5 267.9 82.9 269.5C89.3 271.1 97.3 272.7 102.1 274.3C106.9 275.9 108.72 277.57 111.7 279.1C114.68 280.63 116.8 281.1 120 283.5C123.2 285.9 127.57 290.02 130.9 293.5C134.23 296.98 137.35 301.53 140 304.4C142.65 307.27 144.38 308.05 146.8 310.7C149.22 313.35 151.93 317.42 154.5 320.3C157.07 323.18 159 325.77 162.2 328C165.4 330.23 169.23 331.78 173.7 333.7C178.17 335.62 184.53 338.05 189 339.5C193.47 340.95 195.38 341.6 200.5 342.4C205.62 343.2 212.67 343.67 219.7 344.3C226.73 344.93 238.87 345.88 242.7 346.2"/><circle cx="144.56" cy="308.5" r="5" fill="#ff0000"/></g><rect x="35.5" y="212.5" width="217.2" height="144.8" fill="none" stroke="#000" stroke-width="0.8"/><text x="86.4" y="370.8" text-anchor="middle">1000</text><text x="145.25" y="370.8" text-anchor="middle">2000</text><text x="204.1" y="370.8" text-anchor="middle">3000</text><text x="28.4" y="216.8" text-anchor="end">1.5</text><text x="28.4" y="248.4" text-anchor="end">1.0</text><text x="28.4" y="280" text-anchor="end">0.5</text><text x="28.4" y="311.6" text-anchor="end">0.0</text><text x="28.4" y="343.2" text-anchor="end">-0.5</text><path d="M86.4 357.3v3.3 M145.25 357.3v3.3 M204.1 357.3v3.3 M35.5 213.7h-3.3 M35.5 245.3h-3.3 M35.5 276.9h-3.3 M35.5 308.5h-3.3 M35.5 340.1h-3.3" stroke="#000" stroke-width="0.8" fill="none"/><text x="144.1" y="383.4" text-anchor="middle">Water transport passenger</text><text x="144.1" y="207" text-anchor="middle" font-size="11.3">Water transport passenger</text><text transform="translate(9.3,284.9) rotate(-90)" text-anchor="middle">SHAP value</text></g><g font-family='"Liberation Serif", serif' font-size="9.4" fill="#000""><clipPath id="c5"><rect x="302.5" y="212.5" width="217.8" height="144.8"/></clipPath><g clip-path="url(#c5)"><g fill="#0a77be"><circle cx="312.4" cy="247.6" r="3.85"/><circle cx="312.4" cy="254.4" r="3.85"/><circle cx="312.4" cy="267" r="3.85"/><circle cx="312.4" cy="270.04" r="3.85"/><circle cx="312.4" cy="273.08" r="3.85"/><circle cx="312.4" cy="276.12" r="3.85"/><circle cx="312.4" cy="279.15" r="3.85"/><circle cx="312.4" cy="282.19" r="3.85"/><circle cx="312.4" cy="285.23" r="3.85"/><circle cx="312.4" cy="288.27" r="3.85"/><circle cx="312.4" cy="291.31" r="3.85"/><circle cx="312.4" cy="294.35" r="3.85"/><circle cx="312.4" cy="297.38" r="3.85"/><circle cx="312.4" cy="300.42" r="3.85"/><circle cx="312.4" cy="303.46" r="3.85"/><circle cx="312.4" cy="306.5" r="3.85"/><circle cx="312.4" cy="331.1" r="3.85"/><circle cx="330.6" cy="299.5" r="3.85"/><circle cx="330.6" cy="302.61" r="3.85"/><circle cx="330.6" cy="305.73" r="3.85"/><circle cx="330.6" cy="308.84" r="3.85"/><circle cx="330.6" cy="311.96" r="3.85"/><circle cx="330.6" cy="315.07" r="3.85"/><circle cx="330.6" cy="318.19" r="3.85"/><circle cx="330.6" cy="321.3" r="3.85"/><circle cx="330.6" cy="336" r="3.85"/><circle cx="330.6" cy="345.6" r="3.85"/><circle cx="330.6" cy="349.9" r="3.85"/><circle cx="348.4" cy="273.7" r="3.85"/><circle cx="348.4" cy="276.67" r="3.85"/><circle cx="348.4" cy="279.63" r="3.85"/><circle cx="348.4" cy="282.6" r="3.85"/><circle cx="348.4" cy="285.57" r="3.85"/><circle cx="348.4" cy="288.53" r="3.85"/><circle cx="348.4" cy="291.5" r="3.85"/><circle cx="366.6" cy="277.4" r="3.85"/><circle cx="366.6" cy="280.24" r="3.85"/><circle cx="366.6" cy="283.08" r="3.85"/><circle cx="366.6" cy="285.92" r="3.85"/><circle cx="366.6" cy="288.76" r="3.85"/><circle cx="366.6" cy="291.6" r="3.85"/><circle cx="384.6" cy="279.1" r="3.85"/><circle cx="384.6" cy="281.93" r="3.85"/><circle cx="384.6" cy="284.75" r="3.85"/><circle cx="384.6" cy="287.57" r="3.85"/><circle cx="384.6" cy="290.4" r="3.85"/><circle cx="402.5" cy="283.8" r="3.85"/><circle cx="402.5" cy="286.97" r="3.85"/><circle cx="402.5" cy="290.13" r="3.85"/><circle cx="402.5" cy="293.3" r="3.85"/><circle cx="420.5" cy="282.6" r="3.85"/><circle cx="420.5" cy="285.43" r="3.85"/><circle cx="420.5" cy="288.25" r="3.85"/><circle cx="420.5" cy="291.07" r="3.85"/><circle cx="420.5" cy="293.9" r="3.85"/><circle cx="438.4" cy="279.9" r="3.85"/><circle cx="438.4" cy="282.82" r="3.85"/><circle cx="438.4" cy="285.73" r="3.85"/><circle cx="438.4" cy="288.65" r="3.85"/><circle cx="438.4" cy="291.57" r="3.85"/><circle cx="438.4" cy="294.48" r="3.85"/><circle cx="438.4" cy="297.4" r="3.85"/><circle cx="456.4" cy="219.3" r="3.85"/><circle cx="456.4" cy="225.1" r="3.85"/><circle cx="456.4" cy="233.3" r="3.85"/><circle cx="456.4" cy="243.8" r="3.85"/><circle cx="456.4" cy="246.96" r="3.85"/><circle cx="456.4" cy="250.11" r="3.85"/><circle cx="456.4" cy="253.27" r="3.85"/><circle cx="456.4" cy="256.43" r="3.85"/><circle cx="456.4" cy="259.59" r="3.85"/><circle cx="456.4" cy="262.74" r="3.85"/><circle cx="456.4" cy="265.9" r="3.85"/><circle cx="474" cy="226.3" r="3.85"/><circle cx="474" cy="233.3" r="3.85"/><circle cx="474" cy="240.3" r="3.85"/><circle cx="474" cy="243.3" r="3.85"/><circle cx="474" cy="246.3" r="3.85"/><circle cx="474" cy="249.3" r="3.85"/><circle cx="474" cy="252.3" r="3.85"/><circle cx="474" cy="255.3" r="3.85"/><circle cx="474" cy="258.3" r="3.85"/><circle cx="474" cy="261.3" r="3.85"/><circle cx="474" cy="268.2" r="3.85"/><circle cx="492.1" cy="219.3" r="3.85"/><circle cx="492.1" cy="227.5" r="3.85"/><circle cx="492.1" cy="233.3" r="3.85"/><circle cx="492.1" cy="236.21" r="3.85"/><circle cx="492.1" cy="239.12" r="3.85"/><circle cx="492.1" cy="242.04" r="3.85"/><circle cx="492.1" cy="244.95" r="3.85"/><circle cx="492.1" cy="247.86" r="3.85"/><circle cx="492.1" cy="250.78" r="3.85"/><circle cx="492.1" cy="253.69" r="3.85"/><circle cx="492.1" cy="256.6" r="3.85"/><circle cx="510" cy="220.5" r="3.85"/><circle cx="510" cy="228.6" r="3.85"/><circle cx="510" cy="238" r="3.85"/><circle cx="510" cy="246.1" r="3.85"/><circle cx="510" cy="253.1" r="3.85"/></g><text x="438.86" y="280.9" text-anchor="end" font-size="9.4" fill="#ff0000" class="a" font-family='"Liberation Serif", serif'>(8.03, 0)</text><line x1="302.5" y1="274.7" x2="520.3" y2="274.7" stroke="#000" stroke-width="0.94" stroke-dasharray="3.5 1.5"/><line x1="438.86" y1="357.3" x2="438.86" y2="212.5" stroke="#777" stroke-width="1.5" stroke-dasharray="5.2 2.25"/><path fill="none" stroke="#ffa500" stroke-width="1.88" stroke-linejoin="round" stroke-linecap="butt" d="M312.4 289.2C315.43 288.92 324.62 288.12 330.6 287.5C336.58 286.88 342.28 286.05 348.3 285.5C354.32 284.95 360.72 284.22 366.7 284.2C372.68 284.18 378.37 285.02 384.2 285.4C390.03 285.78 396.27 286.7 401.7 286.5C407.13 286.3 412.92 285.03 416.8 284.2C420.68 283.37 421.38 283.13 425 281.5C428.62 279.87 433.25 277.77 438.5 274.4C443.75 271.03 450.6 265.43 456.5 261.3C462.4 257.17 467.88 253.48 473.9 249.6C479.92 245.72 486.58 241.8 492.6 238C498.62 234.2 507.1 228.67 510 226.8"/><circle cx="438.86" cy="274.7" r="5" fill="#ff0000"/></g><rect x="302.5" y="212.5" width="217.8" height="144.8" fill="none" stroke="#000" stroke-width="0.8"/><text x="330.5" y="370.8" text-anchor="middle">2</text><text x="366.44" y="370.8" text-anchor="middle">4</text><text x="402.38" y="370.8" text-anchor="middle">6</text><text x="438.32" y="370.8" text-anchor="middle">8</text><text x="474.26" y="370.8" text-anchor="middle">10</text><text x="510.2" y="370.8" text-anchor="middle">12</text><text x="295.4" y="240.95" text-anchor="end">1</text><text x="295.4" y="277.8" text-anchor="end">0</text><text x="295.4" y="314.65" text-anchor="end">-1</text><text x="295.4" y="351.5" text-anchor="end">-2</text><path d="M330.5 357.3v3.3 M366.44 357.3v3.3 M402.38 357.3v3.3 M438.32 357.3v3.3 M474.26 357.3v3.3 M510.2 357.3v3.3 M302.5 237.85h-3.3 M302.5 274.7h-3.3 M302.5 311.55h-3.3 M302.5 348.4h-3.3" stroke="#000" stroke-width="0.8" fill="none"/><text x="411.4" y="383.4" text-anchor="middle">month</text><text x="411.4" y="207" text-anchor="middle" font-size="11.3">month</text><text transform="translate(283.2,284.9) rotate(-90)" text-anchor="middle">SHAP value</text></g><g font-family='"Liberation Serif", serif' font-size="9.4" fill="#000""><clipPath id="c6"><rect x="570.6" y="212.5" width="217.4" height="144.8"/></clipPath><g clip-path="url(#c6)"><g fill="#0a77be"><circle cx="579" cy="345.9" r="3.85"/><circle cx="584" cy="349.9" r="3.85"/><circle cx="588" cy="343.9" r="3.85"/><circle cx="586" cy="339.9" r="3.85"/><circle cx="589" cy="333.9" r="3.85"/><circle cx="594" cy="326.9" r="3.85"/><circle cx="598.9" cy="328.9" r="3.85"/><circle cx="603.9" cy="321.9" r="3.85"/><circle cx="606.9" cy="317.9" r="3.85"/><circle cx="609.9" cy="311.9" r="3.85"/><circle cx="612.9" cy="307.9" r="3.85"/><circle cx="617.9" cy="305" r="3.85"/><circle cx="620.9" cy="317.9" r="3.85"/><circle cx="615.9" cy="315.9" r="3.85"/><circle cx="623.9" cy="304" r="3.85"/><circle cx="629.9" cy="303" r="3.85"/><circle cx="633.9" cy="307.9" r="3.85"/><circle cx="637.9" cy="304" r="3.85"/><circle cx="641.9" cy="309.9" r="3.85"/><circle cx="643.9" cy="312.9" r="3.85"/><circle cx="647.9" cy="309.9" r="3.85"/><circle cx="649.9" cy="304" r="3.85"/><circle cx="653.8" cy="302" r="3.85"/><circle cx="658.8" cy="299" r="3.85"/><circle cx="658.8" cy="283" r="3.85"/><circle cx="665.8" cy="282" r="3.85"/><circle cx="673.8" cy="284" r="3.85"/><circle cx="625.9" cy="308.9" r="3.85"/><circle cx="612.9" cy="317.9" r="3.85"/><circle cx="598" cy="333.9" r="3.85"/><circle cx="661.8" cy="281.6" r="3.85"/><circle cx="666.4" cy="278.1" r="3.85"/><circle cx="671" cy="274.7" r="3.85"/><circle cx="676.7" cy="272.4" r="3.85"/><circle cx="680.1" cy="277" r="3.85"/><circle cx="673.2" cy="280.4" r="3.85"/><circle cx="686.9" cy="270.2" r="3.85"/><circle cx="686.9" cy="280.4" r="3.85"/><circle cx="693.8" cy="272.4" r="3.85"/><circle cx="699.5" cy="273.6" r="3.85"/><circle cx="700.6" cy="278.1" r="3.85"/><circle cx="708.6" cy="267.9" r="3.85"/><circle cx="708.6" cy="279.3" r="3.85"/><circle cx="715.4" cy="267.9" r="3.85"/><circle cx="720" cy="273.6" r="3.85"/><circle cx="721.1" cy="278.1" r="3.85"/><circle cx="728" cy="270.2" r="3.85"/><circle cx="730.3" cy="278.1" r="3.85"/><circle cx="734.8" cy="271.3" r="3.85"/><circle cx="739.4" cy="275.9" r="3.85"/><circle cx="738.2" cy="269" r="3.85"/><circle cx="742.8" cy="271.3" r="3.85"/><circle cx="746.2" cy="266.7" r="3.85"/><circle cx="747.4" cy="261" r="3.85"/><circle cx="746.2" cy="255.3" r="3.85"/><circle cx="750.8" cy="253" r="3.85"/><circle cx="754.2" cy="250.8" r="3.85"/><circle cx="758.8" cy="241.6" r="3.85"/><circle cx="761" cy="237.1" r="3.85"/><circle cx="758.8" cy="232.5" r="3.85"/><circle cx="764.5" cy="231.4" r="3.85"/><circle cx="761" cy="234.8" r="3.85"/><circle cx="764.5" cy="218.8" r="3.85"/><circle cx="764.5" cy="222.3" r="3.85"/><circle cx="773.6" cy="220.7" r="3.85"/><circle cx="778.1" cy="219.3" r="3.85"/><circle cx="712" cy="271.3" r="3.85"/><circle cx="691.5" cy="275.9" r="3.85"/><circle cx="728" cy="277" r="3.85"/><circle cx="579" cy="346.9" r="3.85"/><circle cx="582" cy="349.9" r="3.85"/><circle cx="586" cy="347.9" r="3.85"/><circle cx="588" cy="341.9" r="3.85"/><circle cx="589" cy="335.9" r="3.85"/><circle cx="591" cy="330.9" r="3.85"/><circle cx="594" cy="326.9" r="3.85"/><circle cx="597.9" cy="329.9" r="3.85"/><circle cx="601.9" cy="327.9" r="3.85"/><circle cx="602.9" cy="322.9" r="3.85"/><circle cx="605.9" cy="318.9" r="3.85"/><circle cx="608.9" cy="313.9" r="3.85"/><circle cx="609.9" cy="309.9" r="3.85"/><circle cx="612.9" cy="306.9" r="3.85"/><circle cx="617.9" cy="305" r="3.85"/><circle cx="621.9" cy="304" r="3.85"/><circle cx="626.9" cy="303" r="3.85"/><circle cx="629.9" cy="306.9" r="3.85"/><circle cx="633.9" cy="309.9" r="3.85"/><circle cx="637.9" cy="307.9" r="3.85"/><circle cx="641.9" cy="310.9" r="3.85"/><circle cx="643.9" cy="313.9" r="3.85"/><circle cx="646.8" cy="308.9" r="3.85"/><circle cx="649.8" cy="304" r="3.85"/><circle cx="653.8" cy="300" r="3.85"/><circle cx="617.9" cy="316.9" r="3.85"/><circle cx="621.9" cy="318.9" r="3.85"/><circle cx="614.9" cy="314.9" r="3.85"/><circle cx="609.9" cy="315.9" r="3.85"/><circle cx="596" cy="333.9" r="3.85"/><circle cx="592" cy="337.9" r="3.85"/><circle cx="585" cy="343.9" r="3.85"/><circle cx="661.4" cy="282.7" r="3.85"/><circle cx="666" cy="279.3" r="3.85"/><circle cx="670.5" cy="275.8" r="3.85"/><circle cx="675.1" cy="273.6" r="3.85"/><circle cx="672.8" cy="280.4" r="3.85"/><circle cx="679.6" cy="277" r="3.85"/><circle cx="684.2" cy="273.6" r="3.85"/><circle cx="686.5" cy="280.4" r="3.85"/><circle cx="689.9" cy="270.1" r="3.85"/><circle cx="693.3" cy="275.8" r="3.85"/><circle cx="697.9" cy="272.4" r="3.85"/><circle cx="702.4" cy="277" r="3.85"/><circle cx="707" cy="271.3" r="3.85"/><circle cx="708.1" cy="279.3" r="3.85"/><circle cx="711.6" cy="267.9" r="3.85"/><circle cx="716.1" cy="273.6" r="3.85"/><circle cx="718.4" cy="278.1" r="3.85"/><circle cx="723" cy="271.3" r="3.85"/><circle cx="727.5" cy="275.8" r="3.85"/><circle cx="729.8" cy="270.1" r="3.85"/><circle cx="733.2" cy="277" r="3.85"/><circle cx="736.6" cy="272.4" r="3.85"/><circle cx="740.1" cy="275.8" r="3.85"/><circle cx="741.2" cy="270.1" r="3.85"/><circle cx="745.8" cy="266.7" r="3.85"/><circle cx="746.9" cy="257.6" r="3.85"/><circle cx="751.5" cy="254.2" r="3.85"/><circle cx="754.9" cy="250.8" r="3.85"/><circle cx="757.2" cy="233.7" r="3.85"/><circle cx="759.4" cy="239.4" r="3.85"/><circle cx="761.7" cy="231.4" r="3.85"/><circle cx="764" cy="220" r="3.85"/></g><text x="656.66" y="299" text-anchor="end" font-size="9.4" fill="#ff0000" class="a" font-family='"Liberation Serif", serif'>(46031.71, 0)</text><line x1="570.6" y1="292.8" x2="788.0" y2="292.8" stroke="#000" stroke-width="0.94" stroke-dasharray="3.5 1.5"/><line x1="656.66" y1="357.3" x2="656.66" y2="212.5" stroke="#777" stroke-width="1.5" stroke-dasharray="5.2 2.25"/><path fill="none" stroke="#ffa500" stroke-width="1.88" stroke-linejoin="round" stroke-linecap="butt" d="M579 343.5C585.4 339.38 604.6 327.05 617.4 318.8C630.2 310.55 648.85 298.68 655.8 294C662.75 289.32 656.27 292.58 659.1 290.7C661.93 288.82 667.85 285.1 672.8 282.7C677.75 280.3 683.1 278.02 688.8 276.3C694.5 274.58 700.17 273.8 707 272.4C713.83 271 722.2 269.8 729.8 267.9C737.4 266 744.62 263.17 752.6 261C760.58 258.83 773.52 255.92 777.7 254.9"/><circle cx="656.66" cy="292.8" r="5" fill="#ff0000"/></g><rect x="570.6" y="212.5" width="217.4" height="144.8" fill="none" stroke="#000" stroke-width="0.8"/><text x="586.2" y="370.8" text-anchor="middle">20000</text><text x="640.33" y="370.8" text-anchor="middle">40000</text><text x="694.47" y="370.8" text-anchor="middle">60000</text><text x="748.6" y="370.8" text-anchor="middle">80000</text><text x="563.5" y="232" text-anchor="end">10</text><text x="563.5" y="263.95" text-anchor="end">5</text><text x="563.5" y="295.9" text-anchor="end">0</text><text x="563.5" y="327.85" text-anchor="end">-5</text><text x="563.5" y="359.8" text-anchor="end">-10</text><path d="M586.2 357.3v3.3 M640.33 357.3v3.3 M694.47 357.3v3.3 M748.6 357.3v3.3 M570.6 228.9h-3.3 M570.6 260.85h-3.3 M570.6 292.8h-3.3 M570.6 324.75h-3.3 M570.6 356.7h-3.3" stroke="#000" stroke-width="0.8" fill="none"/><text x="679.3" y="383.4" text-anchor="middle">Water transport freight</text><text x="679.3" y="207" text-anchor="middle" font-size="11.3">Water transport freight</text><text transform="translate(545.8,284.9) rotate(-90)" text-anchor="middle">SHAP value</text></g><g font-family='"Liberation Serif", serif' font-size="9.4" fill="#000""><clipPath id="c7"><rect x="837.8" y="212.5" width="217.7" height="144.8"/></clipPath><g clip-path="url(#c7)"><g fill="#0a77be"><circle cx="847.1" cy="332" r="3.85"/><circle cx="866.3" cy="337.6" r="3.85"/><circle cx="870.8" cy="341" r="3.85"/><circle cx="875.3" cy="334.2" r="3.85"/><circle cx="874.2" cy="329.7" r="3.85"/><circle cx="878.7" cy="324.1" r="3.85"/><circle cx="882.1" cy="320.7" r="3.85"/><circle cx="884.3" cy="329.7" r="3.85"/><circle cx="887.7" cy="319.6" r="3.85"/><circle cx="890" cy="327.5" r="3.85"/><circle cx="895.6" cy="323" r="3.85"/><circle cx="899" cy="315.1" r="3.85"/><circle cx="902.4" cy="323" r="3.85"/><circle cx="903.5" cy="310.6" r="3.85"/><circle cx="908" cy="306.1" r="3.85"/><circle cx="911.4" cy="308.3" r="3.85"/><circle cx="912.5" cy="299.3" r="3.85"/><circle cx="917" cy="294.8" r="3.85"/><circle cx="915.9" cy="301.6" r="3.85"/><circle cx="922.7" cy="286.9" r="3.85"/><circle cx="927.2" cy="292.5" r="3.85"/><circle cx="929.4" cy="295.9" r="3.85"/><circle cx="931.7" cy="286.9" r="3.85"/><circle cx="936.2" cy="288" r="3.85"/><circle cx="940.7" cy="291.4" r="3.85"/><circle cx="946.3" cy="292.5" r="3.85"/><circle cx="920.4" cy="282.4" r="3.85"/><circle cx="927.2" cy="281.3" r="3.85"/><circle cx="933.9" cy="280.1" r="3.85"/><circle cx="941.8" cy="283.5" r="3.85"/><circle cx="932.3" cy="284.9" r="3.85"/><circle cx="936.8" cy="288.3" r="3.85"/><circle cx="946" cy="292.9" r="3.85"/><circle cx="941.4" cy="289.5" r="3.85"/><circle cx="950.5" cy="280.4" r="3.85"/><circle cx="957.3" cy="276.9" r="3.85"/><circle cx="961.9" cy="279.2" r="3.85"/><circle cx="973.3" cy="280.4" r="3.85"/><circle cx="975.6" cy="284.9" r="3.85"/><circle cx="977.8" cy="273.5" r="3.85"/><circle cx="984.7" cy="267.8" r="3.85"/><circle cx="988.1" cy="272.4" r="3.85"/><circle cx="990.4" cy="261" r="3.85"/><circle cx="992.7" cy="257.6" r="3.85"/><circle cx="996.1" cy="265.5" r="3.85"/><circle cx="1000.6" cy="263.3" r="3.85"/><circle cx="1005.2" cy="257.6" r="3.85"/><circle cx="1005.2" cy="251.9" r="3.85"/><circle cx="1009.7" cy="247.3" r="3.85"/><circle cx="1014.3" cy="251.9" r="3.85"/><circle cx="1015.4" cy="242.8" r="3.85"/><circle cx="1021.1" cy="239.3" r="3.85"/><circle cx="1023.4" cy="246.2" r="3.85"/><circle cx="1025.7" cy="234.8" r="3.85"/><circle cx="1030.2" cy="241.6" r="3.85"/><circle cx="1031.4" cy="233.6" r="3.85"/><circle cx="1033.7" cy="225.7" r="3.85"/><circle cx="1030.2" cy="222.3" r="3.85"/><circle cx="1034.8" cy="218.8" r="3.85"/><circle cx="1045.1" cy="232.5" r="3.85"/><circle cx="1000.6" cy="255.3" r="3.85"/><circle cx="1009.7" cy="257.6" r="3.85"/><circle cx="866" cy="337.1" r="3.85"/><circle cx="869.3" cy="340.4" r="3.85"/><circle cx="874.8" cy="332.7" r="3.85"/><circle cx="877" cy="327.2" r="3.85"/><circle cx="881.4" cy="322.7" r="3.85"/><circle cx="884.7" cy="328.3" r="3.85"/><circle cx="888" cy="320.5" r="3.85"/><circle cx="890.2" cy="326.1" r="3.85"/><circle cx="895.7" cy="323.8" r="3.85"/><circle cx="900.1" cy="322.7" r="3.85"/><circle cx="899" cy="315" r="3.85"/><circle cx="903.4" cy="310.6" r="3.85"/><circle cx="907.8" cy="306.2" r="3.85"/><circle cx="911.1" cy="310.6" r="3.85"/><circle cx="912.2" cy="300.7" r="3.85"/><circle cx="914.4" cy="297.4" r="3.85"/><circle cx="917.7" cy="294.1" r="3.85"/><circle cx="921" cy="286.4" r="3.85"/><circle cx="925.5" cy="284.2" r="3.85"/><circle cx="927.7" cy="290.8" r="3.85"/><circle cx="932.1" cy="283.1" r="3.85"/><circle cx="937.6" cy="286.4" r="3.85"/><circle cx="943.1" cy="284.2" r="3.85"/><circle cx="945.3" cy="290.8" r="3.85"/><circle cx="949.7" cy="279.8" r="3.85"/><circle cx="954.1" cy="276.5" r="3.85"/><circle cx="958.5" cy="277.6" r="3.85"/><circle cx="960.7" cy="282" r="3.85"/><circle cx="923.3" cy="280.9" r="3.85"/><circle cx="934.3" cy="279.8" r="3.85"/><circle cx="880.3" cy="330.5" r="3.85"/><circle cx="883.6" cy="319.4" r="3.85"/><circle cx="974.4" cy="280.4" r="3.85"/><circle cx="976.7" cy="285" r="3.85"/><circle cx="977.8" cy="273.6" r="3.85"/><circle cx="983.5" cy="272.4" r="3.85"/><circle cx="984.6" cy="266.7" r="3.85"/><circle cx="989.2" cy="261" r="3.85"/><circle cx="991.5" cy="257.6" r="3.85"/><circle cx="994.9" cy="266.7" r="3.85"/><circle cx="998.3" cy="263.3" r="3.85"/><circle cx="1000.6" cy="266.7" r="3.85"/><circle cx="1004" cy="256.5" r="3.85"/><circle cx="1007.4" cy="251.9" r="3.85"/><circle cx="1008.6" cy="259.9" r="3.85"/><circle cx="1012" cy="247.3" r="3.85"/><circle cx="1014.3" cy="255.3" r="3.85"/><circle cx="1018.8" cy="243.9" r="3.85"/><circle cx="1020" cy="251.9" r="3.85"/><circle cx="1023.4" cy="238.2" r="3.85"/><circle cx="1025.7" cy="246.2" r="3.85"/><circle cx="1030.2" cy="234.8" r="3.85"/><circle cx="1028" cy="241.6" r="3.85"/><circle cx="1033.7" cy="218.8" r="3.85"/><circle cx="1030.2" cy="222.3" r="3.85"/><circle cx="1034.8" cy="232.5" r="3.85"/></g><text x="967.26" y="284.68" text-anchor="end" font-size="9.4" fill="#ff0000" class="a" font-family='"Liberation Serif", serif'>(270218.31, 0)</text><line x1="837.8" y1="278.48" x2="1055.5" y2="278.48" stroke="#000" stroke-width="0.94" stroke-dasharray="3.5 1.5"/><line x1="967.26" y1="357.3" x2="967.26" y2="212.5" stroke="#777" stroke-width="1.5" stroke-dasharray="5.2 2.25"/><path fill="none" stroke="#ffa500" stroke-width="1.88" stroke-linejoin="round" stroke-linecap="butt" d="M847.1 350C848.78 349.13 848.55 350.63 857.2 344.8C865.85 338.97 886.52 323.63 899 315C911.48 306.37 923.65 298.32 932.1 293C940.55 287.68 944.02 285.67 949.7 283.1C955.38 280.53 961.52 279.57 966.2 277.6C970.88 275.63 973.97 273.12 977.8 271.3C981.63 269.48 985.4 268.8 989.2 266.7C993 264.6 996.42 261.73 1000.6 258.7C1004.78 255.67 1009.37 252.1 1014.3 248.5C1019.23 244.9 1025.07 240.6 1030.2 237.1C1035.33 233.6 1042.62 229.1 1045.1 227.5"/><circle cx="967.26" cy="278.48" r="5" fill="#ff0000"/></g><rect x="837.8" y="212.5" width="217.7" height="144.8" fill="none" stroke="#000" stroke-width="0.8"/><text x="858.6" y="370.8" text-anchor="middle">100000</text><text x="890.52" y="370.8" text-anchor="middle">150000</text><text x="922.43" y="370.8" text-anchor="middle">200000</text><text x="954.35" y="370.8" text-anchor="middle">250000</text><text x="986.27" y="370.8" text-anchor="middle">300000</text><text x="1018.18" y="370.8" text-anchor="middle">350000</text><text x="1050.1" y="370.8" text-anchor="middle">400000</text><text x="830.7" y="216.45" text-anchor="end">10</text><text x="830.7" y="249.01" text-anchor="end">5</text><text x="830.7" y="281.58" text-anchor="end">0</text><text x="830.7" y="314.14" text-anchor="end">-5</text><text x="830.7" y="346.7" text-anchor="end">-10</text><path d="M858.6 357.3v3.3 M890.52 357.3v3.3 M922.43 357.3v3.3 M954.35 357.3v3.3 M986.27 357.3v3.3 M1018.18 357.3v3.3 M1050.1 357.3v3.3 M837.8 213.35h-3.3 M837.8 245.91h-3.3 M837.8 278.48h-3.3 M837.8 311.04h-3.3 M837.8 343.6h-3.3" stroke="#000" stroke-width="0.8" fill="none"/><text x="946.65" y="383.4" text-anchor="middle">Highway freight</text><text x="946.65" y="207" text-anchor="middle" font-size="11.3">Highway freight</text><text transform="translate(812.8,284.9) rotate(-90)" text-anchor="middle">SHAP value</text></g></g></svg></body></html>
